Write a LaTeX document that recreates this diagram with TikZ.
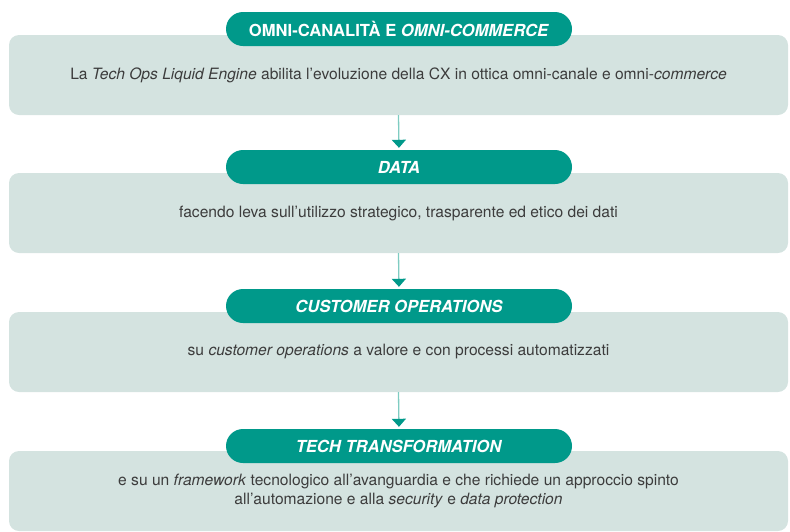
\documentclass[tikz,border=0pt]{standalone}
\usepackage{fontspec}
\setmainfont{TeX Gyre Heros}
\usetikzlibrary{arrows.meta}
\definecolor{HeadTeal}{HTML}{00998A}
\definecolor{PanelGrey}{HTML}{D4E3E0}
\definecolor{ArrowTeal}{HTML}{7FCCC2}
\definecolor{BodyText}{HTML}{3C3C3C}

\begin{document}
\begin{tikzpicture}[x=1pt,y=-1pt,line cap=round,line join=round,
  panel/.style={fill=PanelGrey,rounded corners=10pt,minimum width=779pt,minimum height=80pt,inner sep=0pt,
    text=BodyText,align=center,font=\fontsize{15.6}{19.5}\selectfont},
  header/.style={fill=HeadTeal,rounded corners=17pt,minimum width=346pt,minimum height=34pt,inner sep=0pt,
    text=white,font=\fontsize{16.6}{19}\selectfont\bfseries},
  flow/.style={ArrowTeal,line width=1.3pt,line cap=butt,-{Triangle[width=14pt,length=8pt,color=HeadTeal]},shorten >=2pt}]
  \useasboundingbox (0,0) rectangle (790,531);
  \node[panel] (p1) at (398.5,75) {La \textit{Tech Ops Liquid Engine} abilita l’evoluzione della CX in ottica omni-canale e omni-\textit{commerce}};
  \node[panel] (p2) at (398.5,213) {facendo leva sull’utilizzo strategico, trasparente ed etico dei dati};
  \node[panel] (p3) at (398.5,352) {su \textit{customer operations} a valore e con processi automatizzati};
  \node[panel] (p4) at (398.5,491) {e su un \textit{framework} tecnologico all’avanguardia e che richiede un approccio spinto\\all’automazione e alla \textit{security} e \textit{data protection}};
  \node[header] (h1) at (399,29) {OMNI-CANALITÀ E \textit{OMNI-COMMERCE}};
  \node[header] (h2) at (399,167) {\textit{DATA}};
  \node[header] (h3) at (399,306) {\textit{CUSTOMER OPERATIONS}};
  \node[header] (h4) at (399,446) {\textit{TECH TRANSFORMATION}};
  \draw[flow] (p1.south) -- (h2.north); \draw[flow] (p2.south) -- (h3.north); \draw[flow] (p3.south) -- (h4.north);
\end{tikzpicture}
\end{document}
